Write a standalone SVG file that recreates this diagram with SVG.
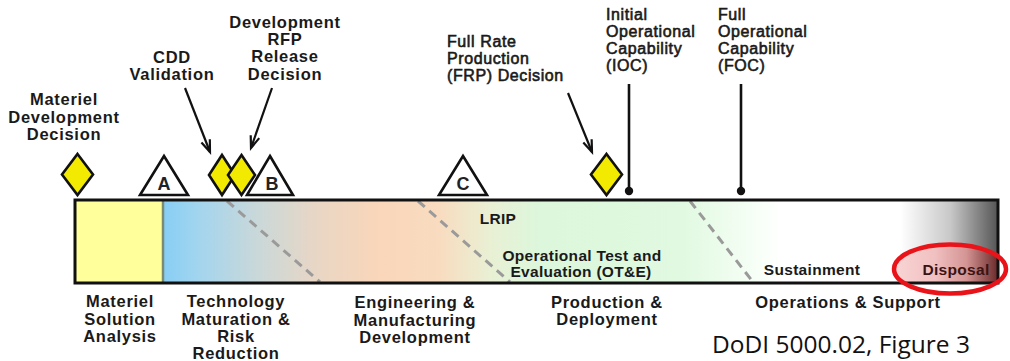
<svg xmlns="http://www.w3.org/2000/svg" width="1010" height="361" viewBox="0 0 1010 361">
  <style>
    .lbl { font-family: "Liberation Sans", Arial, sans-serif; font-size: 16.5px; font-weight: bold; fill: #1a1a1a; letter-spacing: 0.7px; text-anchor: middle; }
    .lite { font-family: "Liberation Sans", Arial, sans-serif; font-size: 16px; font-weight: normal; fill: #1a1a1a; stroke: #1a1a1a; stroke-width: 0.6px; letter-spacing: 0.6px; }
    .inbar { font-family: "Liberation Sans", Arial, sans-serif; font-size: 15.5px; font-weight: bold; fill: #1a1a1a; letter-spacing: 0.3px; text-anchor: middle; }
    .tri { fill: #ffffff; stroke: #111; stroke-width: 2.6; stroke-linejoin: miter; }
    .dia { fill: #f2ea00; stroke: #111; stroke-width: 2.6; stroke-linejoin: miter; }
    .tri-letter { font-family: "Liberation Sans", Arial, sans-serif; font-size: 18px; font-weight: bold; fill: #222; text-anchor: middle; }
    .dash { stroke: #9a9a9a; stroke-width: 3; stroke-dasharray: 9 6; fill: none; }
    .arrow { stroke: #111; stroke-width: 2.2; fill: none; marker-end: url(#chev); }
    .stem { stroke: #111; stroke-width: 2.6; fill: none; }
    .dot { fill: #111; }
  </style>
  <defs>
    <marker id="chev" markerUnits="userSpaceOnUse" markerWidth="16" markerHeight="12" refX="13" refY="6" orient="auto">
      <path d="M1,1.5 L13,6 L1,10.5" fill="none" stroke="#111" stroke-width="2.2"/>
    </marker>
    <linearGradient id="phases" gradientUnits="userSpaceOnUse" x1="163" y1="0" x2="998" y2="0">
      <stop offset="0" stop-color="#86cef5"/>
      <stop offset="0.044" stop-color="#a4d5ee"/>
      <stop offset="0.116" stop-color="#cbd8d8"/>
      <stop offset="0.188" stop-color="#ead6c4"/>
      <stop offset="0.26" stop-color="#fad6ba"/>
      <stop offset="0.332" stop-color="#f8dcc0"/>
      <stop offset="0.392" stop-color="#e9f0d4"/>
      <stop offset="0.452" stop-color="#dcf7dc"/>
      <stop offset="0.62" stop-color="#e0f9e0"/>
      <stop offset="0.716" stop-color="#f8fff8"/>
      <stop offset="0.739" stop-color="#ffffff"/>
      <stop offset="0.883" stop-color="#ffffff"/>
      <stop offset="0.943" stop-color="#c8c8c8"/>
      <stop offset="1" stop-color="#555555"/>
    </linearGradient>
    <linearGradient id="disposalTint" gradientUnits="userSpaceOnUse" x1="893" y1="0" x2="998" y2="0">
      <stop offset="0" stop-color="#f9d6d6"/>
      <stop offset="0.4" stop-color="#f1c0c0"/>
      <stop offset="0.7" stop-color="#d49494"/>
      <stop offset="1" stop-color="#6a2a2a"/>
    </linearGradient>
    <clipPath id="barClip">
      <rect x="75" y="200" width="923" height="83"/>
    </clipPath>
  </defs>

  <!-- acquisition phase bar -->
  <g id="phase-bar">
    <rect x="75" y="200" width="88" height="83" fill="#ffff9c"/>
    <rect x="163" y="200" width="835" height="83" fill="url(#phases)"/>
    <line x1="163" y1="200" x2="163" y2="283" stroke="#7b8a72" stroke-width="2.5"/>
    <g clip-path="url(#barClip)">
      <ellipse cx="950" cy="269" rx="56" ry="25" fill="url(#disposalTint)"/>
    </g>
    <line class="dash" x1="227" y1="201" x2="320" y2="282"/>
    <line class="dash" x1="418" y1="201" x2="510" y2="282"/>
    <line class="dash" x1="690" y1="201" x2="753" y2="282"/>
    <rect x="75" y="200" width="923" height="83" fill="none" stroke="#111" stroke-width="3"/>
    <text class="inbar" x="498" y="224">LRIP</text>
    <text class="inbar" x="582" y="261">Operational Test and</text>
    <text class="inbar" x="581" y="277">Evaluation (OT&amp;E)</text>
    <text class="inbar" x="812" y="275">Sustainment</text>
    <text class="inbar" x="956" y="275" style="fill:#3a1414">Disposal</text>
  </g>

  <!-- disposal highlight ring -->
  <g id="disposal-ring">
    <ellipse cx="950" cy="269" rx="56" ry="24.5" fill="none" stroke="#e8141a" stroke-width="4.5"/>
  </g>

  <!-- connectors: call-out arrows and capability stems -->
  <g id="connectors">
    <line class="arrow" x1="185" y1="88" x2="210" y2="152"/>
    <line class="arrow" x1="272" y1="88" x2="251" y2="148"/>
    <line class="arrow" x1="568" y1="93" x2="592" y2="152"/>
    <line class="stem" x1="629" y1="84" x2="629" y2="191"/>
    <circle class="dot" cx="629" cy="191" r="4.2"/>
    <line class="stem" x1="741" y1="84" x2="741" y2="191"/>
    <circle class="dot" cx="741" cy="191" r="4.2"/>
  </g>

  <!-- decision points -->
  <g id="mdd">
    <polygon class="dia" points="77.5,154 93,174.5 77.5,195 62,174.5"/>
    <text class="lbl" x="64" y="105">Materiel</text>
    <text class="lbl" x="64" y="123">Development</text>
    <text class="lbl" x="64" y="140">Decision</text>
  </g>

  <g id="milestone-a">
    <polygon class="tri" points="164,156 188,195 140,195"/>
    <text class="tri-letter" x="164" y="190">A</text>
  </g>

  <g id="cdd-validation">
    <polygon class="dia" points="222,155 235,175 222,195 209,175"/>
    <text class="lbl" x="172" y="63">CDD</text>
    <text class="lbl" x="172" y="80">Validation</text>
  </g>

  <g id="rfp-release">
    <polygon class="dia" points="241.5,155 255,175 241.5,195 228,175"/>
    <text class="lbl" x="285" y="28">Development</text>
    <text class="lbl" x="285" y="45">RFP</text>
    <text class="lbl" x="285" y="62">Release</text>
    <text class="lbl" x="285" y="80">Decision</text>
  </g>

  <g id="milestone-b">
    <polygon class="tri" points="270,156 293,195 247,195"/>
    <text class="tri-letter" x="272" y="190">B</text>
  </g>

  <g id="milestone-c">
    <polygon class="tri" points="463,156 487,195 439,195"/>
    <text class="tri-letter" x="463" y="190">C</text>
  </g>

  <g id="frp-decision">
    <polygon class="dia" points="606.5,154 622,174.5 606.5,195 591,174.5"/>
    <text class="lite" x="447" y="47">Full Rate</text>
    <text class="lite" x="447" y="64">Production</text>
    <text class="lite" x="447" y="81">(FRP) Decision</text>
  </g>

  <g id="ioc">
    <text class="lite" x="606" y="20">Initial</text>
    <text class="lite" x="606" y="37">Operational</text>
    <text class="lite" x="606" y="54">Capability</text>
    <text class="lite" x="606" y="71">(IOC)</text>
  </g>

  <g id="foc">
    <text class="lite" x="718" y="20">Full</text>
    <text class="lite" x="718" y="37">Operational</text>
    <text class="lite" x="718" y="54">Capability</text>
    <text class="lite" x="718" y="71">(FOC)</text>
  </g>

  <!-- phase names under the bar -->
  <g id="phase-msa">
    <text class="lbl" x="120" y="307">Materiel</text>
    <text class="lbl" x="120" y="325">Solution</text>
    <text class="lbl" x="120" y="342">Analysis</text>
  </g>
  <g id="phase-tmrr">
    <text class="lbl" x="236" y="307">Technology</text>
    <text class="lbl" x="236" y="325">Maturation &amp;</text>
    <text class="lbl" x="236" y="342">Risk</text>
    <text class="lbl" x="236" y="359">Reduction</text>
  </g>
  <g id="phase-emd">
    <text class="lbl" x="415" y="308">Engineering &amp;</text>
    <text class="lbl" x="415" y="326">Manufacturing</text>
    <text class="lbl" x="415" y="343">Development</text>
  </g>
  <g id="phase-pd">
    <text class="lbl" x="607" y="308">Production &amp;</text>
    <text class="lbl" x="607" y="325">Deployment</text>
  </g>
  <g id="phase-os">
    <text class="lbl" x="848" y="308">Operations &amp; Support</text>
  </g>

  <text x="841" y="353" font-family="'Open Sans', 'Liberation Sans', sans-serif" font-size="23" fill="#111" text-anchor="middle" textLength="258" lengthAdjust="spacingAndGlyphs">DoDI 5000.02, Figure 3</text>
</svg>
